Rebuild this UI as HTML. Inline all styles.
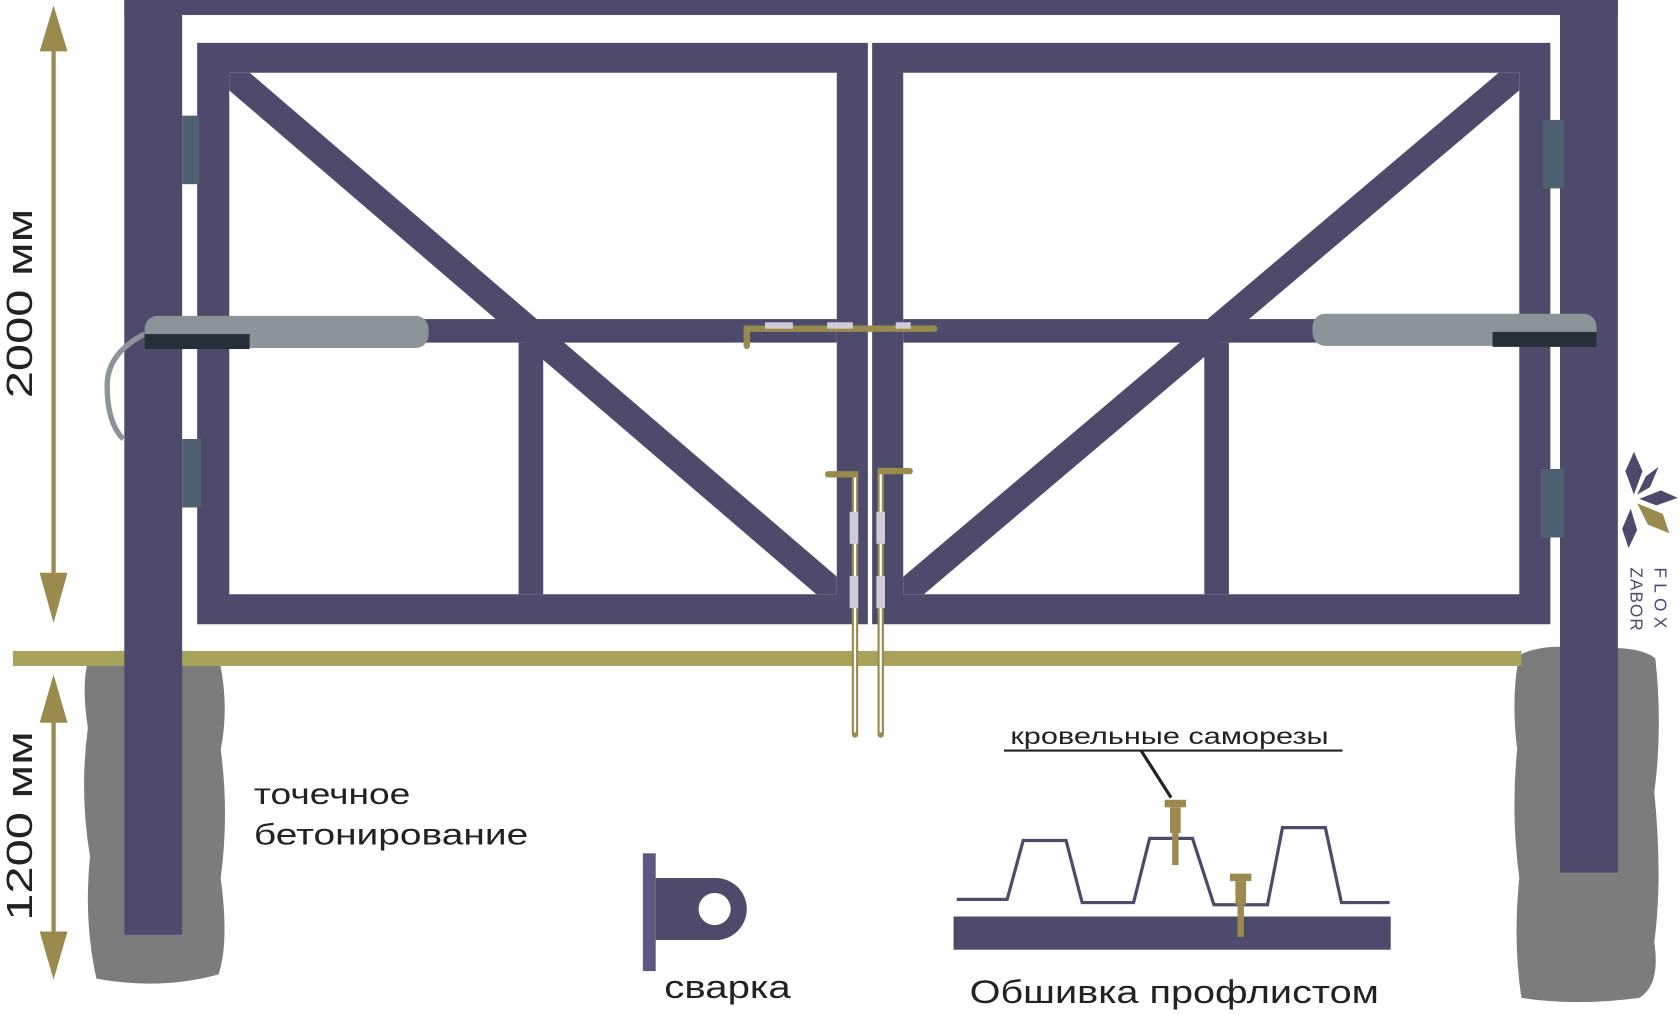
<!DOCTYPE html>
<html><head><meta charset="utf-8"><style>html,body{margin:0;padding:0;background:#fff;width:1680px;height:1015px;overflow:hidden}svg{display:block}</style></head><body>
<svg width="1680" height="1015" viewBox="0 0 1568 948" preserveAspectRatio="none" xmlns="http://www.w3.org/2000/svg" font-family="Liberation Sans, DejaVu Sans, sans-serif">
<defs><clipPath id="cl"><rect x="214" y="68" width="567" height="487"/></clipPath><clipPath id="cr"><rect x="843" y="68" width="575" height="487"/></clipPath></defs>
<path d="M82 618 Q95 608 130 612 Q170 606 205 618 Q214 660 206 700 Q214 760 206 820 Q214 880 204 910 Q150 925 90 914 Q78 860 84 800 Q74 740 82 680 Q76 640 82 618Z" fill="#7c7c7c"/>
<path d="M1418 612 Q1440 600 1480 606 Q1530 602 1545 615 Q1552 680 1544 740 Q1552 820 1544 880 Q1550 920 1530 932 Q1470 940 1420 932 Q1412 880 1418 820 Q1410 760 1416 700 Q1410 650 1418 612Z" fill="#7c7c7c"/>
<rect x="12" y="608" width="1408" height="14" fill="#a8a35a"/>
<rect x="116" y="0" width="54" height="873" fill="#4e4a6b"/>
<rect x="1456" y="0" width="54" height="815" fill="#4e4a6b"/>
<rect x="116" y="0" width="1394" height="14" fill="#4e4a6b"/>
<path fill="#4e4a6b" fill-rule="evenodd" d="M184 40H810V583H184ZM214 68V555H781V68Z"/>
<path fill="#4e4a6b" fill-rule="evenodd" d="M814 40H1447V583H814ZM843 68V555H1418V68Z"/>
<rect x="214" y="298" width="567" height="22" fill="#4e4a6b"/>
<rect x="843" y="298" width="575" height="22" fill="#4e4a6b"/>
<rect x="484" y="320" width="23" height="235" fill="#4e4a6b"/>
<rect x="1124" y="320" width="23" height="235" fill="#4e4a6b"/>
<line x1="214" y1="68" x2="781" y2="555" stroke="#4e4a6b" stroke-width="25" clip-path="url(#cl)"/>
<line x1="1418" y1="68" x2="843" y2="555" stroke="#4e4a6b" stroke-width="25" clip-path="url(#cr)"/>
<rect x="170" y="108" width="16" height="64" fill="#4f6070"/>
<rect x="170" y="410" width="18" height="64" fill="#4f6070"/>
<rect x="1440" y="112" width="20" height="64" fill="#4f6070"/>
<rect x="1438" y="438" width="22" height="64" fill="#4f6070"/>
<path d="M135 312 Q100 330 100 360 Q100 395 115 410" fill="none" stroke="#8a9499" stroke-width="5"/>
<rect x="135" y="295" width="265" height="30" rx="12" fill="#8a9499"/>
<rect x="135" y="312" width="98" height="14" fill="#26303a"/>
<rect x="1225" y="293" width="265" height="30" rx="12" fill="#8a9499"/>
<rect x="1393" y="310" width="97" height="14" fill="#26303a"/>
<g stroke="#9b8a4e" stroke-width="6" fill="none" stroke-linecap="round">
<path d="M697 323V307H872"/>
<path d="M773 443H798V686"/>
<path d="M849 440H822V686"/>
</g>
<g stroke="#fff" stroke-width="2" fill="none">
<path d="M798 446V684"/><path d="M822 443V684"/>
</g>
<g fill="#cfcbd8"><rect x="714" y="301" width="26" height="6"/><rect x="772" y="301" width="24" height="6"/><rect x="836" y="301" width="14" height="6"/>
<rect x="793" y="478" width="8" height="30"/><rect x="793" y="538" width="8" height="30"/><rect x="818" y="478" width="8" height="30"/><rect x="818" y="538" width="8" height="30"/></g>
<g fill="#9b8a4e"><rect x="48" y="30" width="4" height="520"/><path d="M37 48L50 5L63 48Z"/><path d="M37 535L50 582L63 535Z"/>
<rect x="48" y="660" width="4" height="225"/><path d="M37 675L50 630L63 675Z"/><path d="M37 870L50 915L63 870Z"/></g>
<text transform="translate(30 372) rotate(-90)" font-size="34" fill="#222" textLength="177" lengthAdjust="spacingAndGlyphs">2000 мм</text>
<text transform="translate(30 860) rotate(-90)" font-size="34" fill="#222" textLength="177" lengthAdjust="spacingAndGlyphs">1200 мм</text>
<text x="237" y="751" font-size="28" fill="#222" textLength="146" lengthAdjust="spacingAndGlyphs">точечное</text>
<text x="237" y="789" font-size="28" fill="#222" textLength="256" lengthAdjust="spacingAndGlyphs">бетонирование</text>
<rect x="600" y="797" width="12" height="110" fill="#5e5880"/>
<path d="M612 820H668A29 29 0 0 1 668 878H612Z" fill="#4e4a6b"/>
<circle cx="667" cy="849" r="15" fill="#fff"/>
<text x="620" y="932" font-size="30" fill="#222" textLength="118" lengthAdjust="spacingAndGlyphs">сварка</text>
<rect x="890" y="856" width="408" height="31" fill="#4e4a6b"/>
<path d="M893 840H940L955 785H995L1010 843H1058L1073 783H1113L1133 845H1183L1197 773H1237L1252 843H1297" fill="none" stroke="#4e4a6b" stroke-width="3"/>
<text x="943" y="695" font-size="22" fill="#222" textLength="297" lengthAdjust="spacingAndGlyphs">кровельные саморезы</text>
<line x1="937" y1="701" x2="1253" y2="701" stroke="#222" stroke-width="2"/>
<line x1="1065" y1="701" x2="1093" y2="745" stroke="#222" stroke-width="3"/>
<g fill="#9b8a4e"><rect x="1087" y="747" width="20" height="7"/><rect x="1092" y="754" width="10" height="24"/><rect x="1094" y="778" width="6" height="30"/>
<rect x="1148" y="816" width="20" height="7"/><rect x="1153" y="823" width="10" height="22"/><rect x="1155" y="845" width="6" height="30"/></g>
<text x="905" y="937" font-size="30" fill="#222" textLength="382" lengthAdjust="spacingAndGlyphs">Обшивка профлистом</text>
<g fill="#4e4a6b"><path d="M1525 422L1533 440L1525 462L1517 440Z"/><path d="M1548 436L1540 455L1528 462L1536 445Z"/><path d="M1566 465L1546 472L1530 466L1550 458Z"/><path d="M1522 475L1528 495L1520 512L1514 494Z"/></g>
<path d="M1528 470L1552 480L1558 498L1538 490Z" fill="#9b8a4e"/>
<text transform="translate(1544 530) rotate(90)" font-size="16" letter-spacing="5" fill="#4e4a6b">FLOX</text>
<text transform="translate(1522 530) rotate(90)" font-size="16" letter-spacing="1" fill="#4e4a6b">ZABOR</text>
</svg>
</body></html>
